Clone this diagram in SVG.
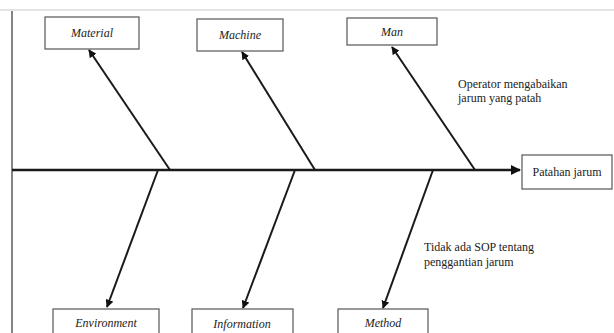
<svg xmlns="http://www.w3.org/2000/svg" width="614" height="333" viewBox="0 0 614 333">
  <style>
    .box { fill: #ffffff; stroke: #555555; stroke-width: 1.2; }
    .cat { font-style: italic; font-size: 12px; fill: #222222; text-anchor: middle; }
    .note { font-size: 12px; fill: #222222; }
    .bone { stroke: #1a1a1a; stroke-width: 2; fill: none; marker-end: url(#head); }
  </style>
  <defs>
    <marker id="head" viewBox="0 0 10 10" refX="9" refY="5" markerWidth="4" markerHeight="4" orient="auto" markerUnits="strokeWidth">
      <path d="M0,0 L10,5 L0,10 z" fill="#111111"/>
    </marker>
  </defs>
  <rect x="0" y="0" width="614" height="333" fill="#ffffff"/>
  <!-- page frame -->
  <line x1="0" y1="10" x2="614" y2="10" stroke="#e4e4e4" stroke-width="2"/>
  <line x1="12" y1="11" x2="12" y2="333" stroke="#333333" stroke-width="1.2"/>

  <!-- connectors -->
  <g id="connectors">
    <line class="bone" x1="12" y1="170" x2="520" y2="170" style="stroke-width:2.5"/>
    <line class="bone" x1="170" y1="170" x2="89" y2="50"/>
    <line class="bone" x1="315" y1="170" x2="242" y2="52"/>
    <line class="bone" x1="475" y1="170" x2="392" y2="47"/>
    <line class="bone" x1="158" y1="170" x2="107" y2="307"/>
    <line class="bone" x1="295" y1="170" x2="243" y2="308"/>
    <line class="bone" x1="433" y1="170" x2="383" y2="308"/>
  </g>

  <g font-family="'Liberation Serif', 'DejaVu Serif', serif">
    <g id="material">
      <rect class="box" x="45" y="17" width="94" height="32"/>
      <text class="cat" x="92" y="37">Material</text>
    </g>
    <g id="machine">
      <rect class="box" x="197" y="19" width="86" height="32"/>
      <text class="cat" x="240" y="39">Machine</text>
    </g>
    <g id="man">
      <rect class="box" x="347" y="18" width="90" height="27"/>
      <text class="cat" x="392" y="36">Man</text>
    </g>
    <g id="effect">
      <rect class="box" x="522" y="155" width="90" height="34"/>
      <text class="note" x="567" y="176" text-anchor="middle">Patahan jarum</text>
    </g>
    <g id="environment">
      <rect class="box" x="53" y="309" width="106" height="30"/>
      <text class="cat" x="106" y="327">Environment</text>
    </g>
    <g id="information">
      <rect class="box" x="192" y="309" width="101" height="30"/>
      <text class="cat" x="242" y="328">Information</text>
    </g>
    <g id="method">
      <rect class="box" x="338" y="309" width="90" height="30"/>
      <text class="cat" x="383" y="327">Method</text>
    </g>

    <g id="note-man">
      <text class="note" x="458" y="88">Operator mengabaikan</text>
      <text class="note" x="458" y="102">jarum yang patah</text>
    </g>
    <g id="note-method">
      <text class="note" x="424" y="251">Tidak ada SOP tentang</text>
      <text class="note" x="424" y="266">penggantian jarum</text>
    </g>
  </g>
</svg>
